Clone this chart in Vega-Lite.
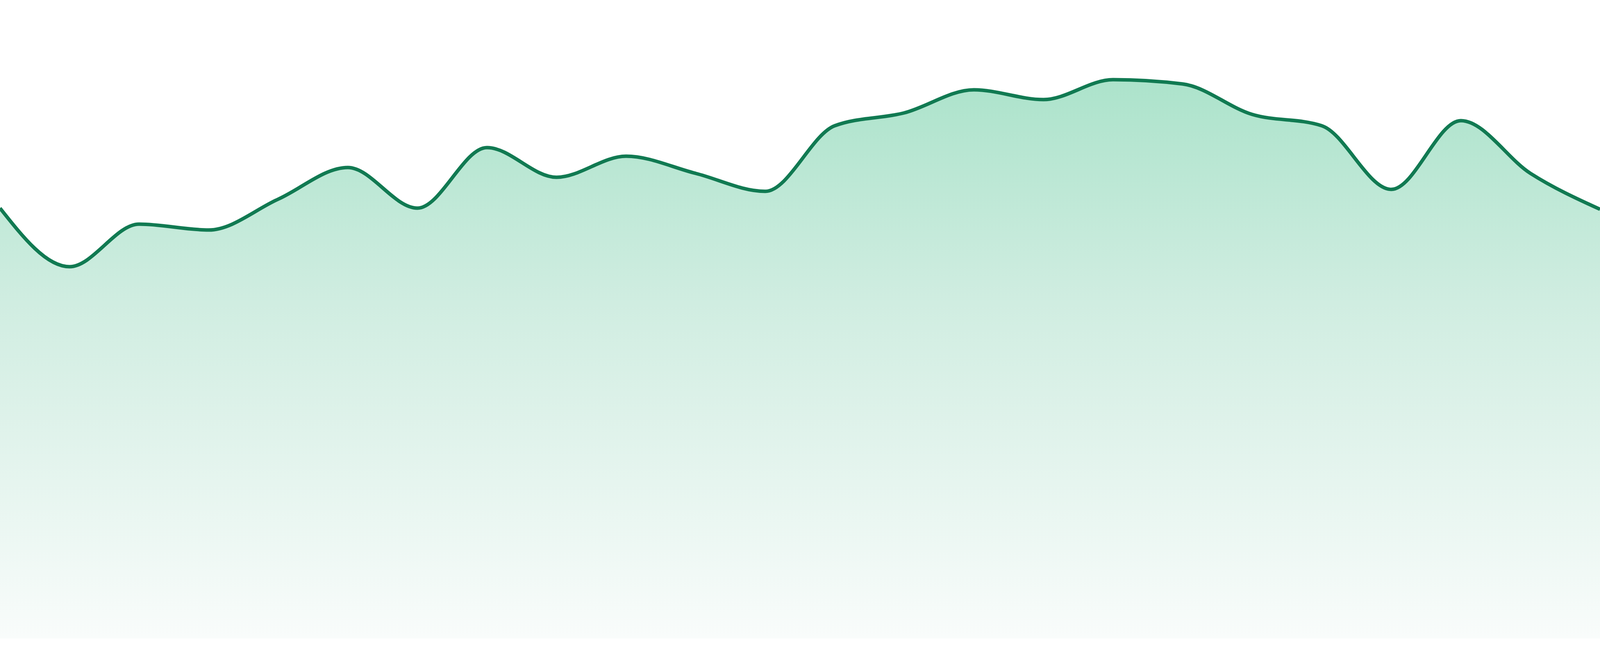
{
  "$schema": "https://vega.github.io/schema/vega-lite/v6.json",
  "width": "container",
  "height": 1680,
  "padding": 0,
  "autosize": {"type": "fit", "contains": "padding"},
  "background": "white",
  "config": {"view": {"stroke": null}},
  "data": {
    "values": [
      {"i": 0, "v": 110.2}, {"i": 1, "v": 95.2}, {"i": 2, "v": 106.1}, {"i": 3, "v": 104.6},
      {"i": 4, "v": 112.5}, {"i": 5, "v": 120.6}, {"i": 6, "v": 110.2}, {"i": 7, "v": 125.7},
      {"i": 8, "v": 118.1}, {"i": 9, "v": 123.5}, {"i": 10, "v": 119.1}, {"i": 11, "v": 114.5},
      {"i": 12, "v": 131.3}, {"i": 13, "v": 134.6}, {"i": 14, "v": 140.5}, {"i": 15, "v": 138.0},
      {"i": 16, "v": 143.1}, {"i": 17, "v": 142.0}, {"i": 18, "v": 134.2}, {"i": 19, "v": 131.3},
      {"i": 20, "v": 115.0}, {"i": 21, "v": 132.6}, {"i": 22, "v": 119.1}, {"i": 23, "v": 109.9}
    ]
  },
  "encoding": {
    "x": {"field": "i", "type": "quantitative", "scale": {"domain": [0, 23], "nice": false, "zero": false}, "axis": null},
    "y": {"field": "v", "type": "quantitative", "scale": {"domain": [-4.5, 163.5], "nice": false, "zero": false}, "axis": null}
  },
  "layer": [
    {
      "mark": {
        "type": "area",
        "interpolate": "monotone",
        "color": {
          "gradient": "linear",
          "x1": 0, "y1": 0, "x2": 0, "y2": 1,
          "stops": [
            {"offset": 0, "color": "#ace3cb"},
            {"offset": 0.4, "color": "#d0ede1"},
            {"offset": 1, "color": "#f9fcfb"}
          ]
        }
      }
    },
    {
      "mark": {"type": "line", "interpolate": "monotone", "color": "#117a52", "strokeWidth": 9, "clip": true}
    }
  ]
}
